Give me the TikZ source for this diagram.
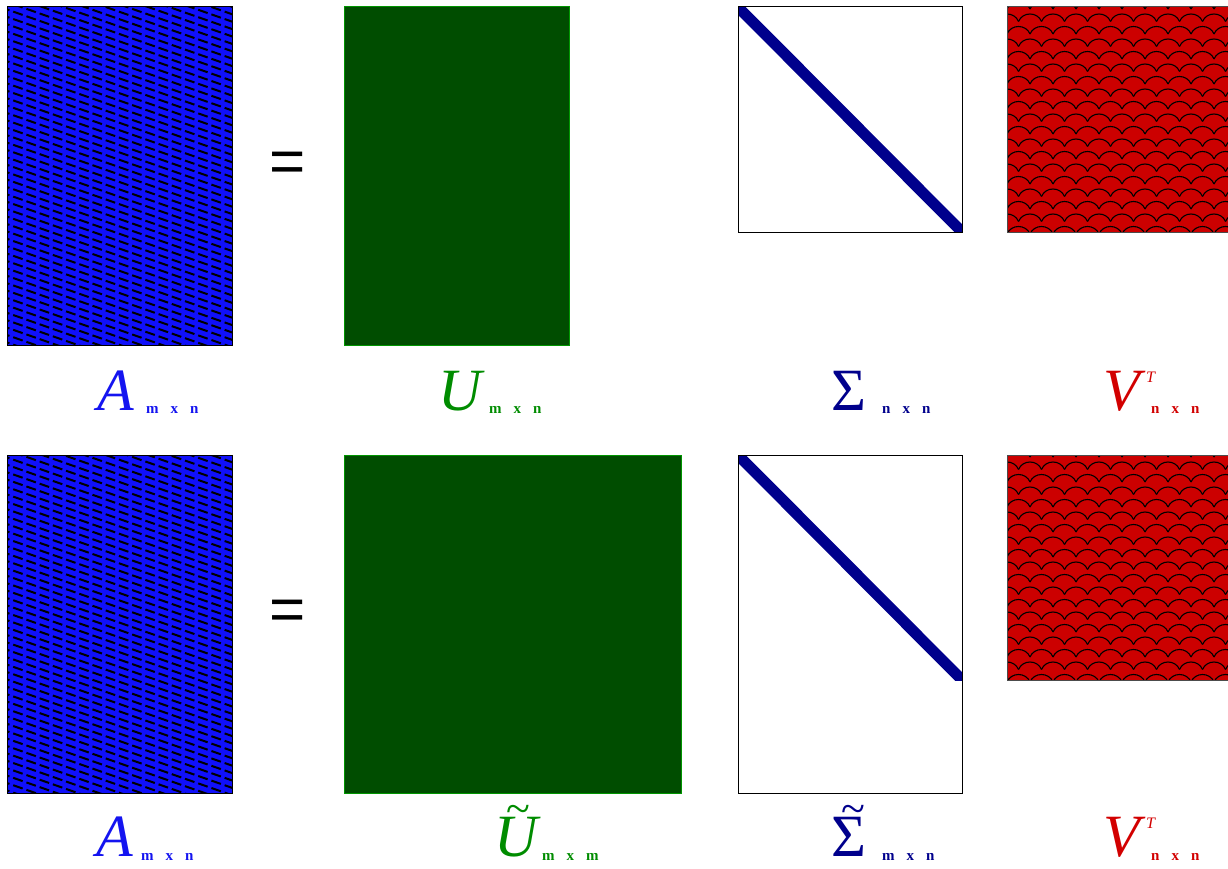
\documentclass[tikz,border=0pt]{standalone}
\usepackage{fontspec}
\setmainfont{Liberation Serif}
\newfontfamily\eqfont{Liberation Sans}
\definecolor{afill}{RGB}{16,16,250}
\definecolor{alabel}{RGB}{20,20,240}
\definecolor{ufill}{RGB}{0,77,0}
\definecolor{uedge}{RGB}{0,150,0}
\definecolor{ulabel}{RGB}{0,140,0}
\definecolor{snavy}{RGB}{0,0,140}
\definecolor{vfill}{RGB}{204,0,0}
\definecolor{vlabel}{RGB}{210,0,0}
\newcommand\myblue[2]{% top y, bottom y
  \begin{scope}
    \clip (7,#1) rectangle (232,#2);
    \fill[afill] (7,#1) rectangle (232,#2);
    \foreach \i in {-14,...,48}
      \draw[black, line width=2pt, dash pattern=on 10pt off 4pt]
        (0,{#1+\i*7.4}) -- (240,{#1+\i*7.4+84});
  \end{scope}
  \draw[black, line width=1pt] (7,#1) rectangle (232,#2);
}
\newcommand\myred[2]{% top y, bottom y
  \begin{scope}
    \clip (1007,#1) rectangle (1228,#2);
    \fill[vfill] (1007,#1) rectangle (1228,#2);
    \foreach \r in {0,...,19}{
      \pgfmathsetmacro\yy{#1+2+\r*12.5}
      \pgfmathsetmacro\off{mod(\r,2)*11.5}
      \foreach \c in {-1,...,10}{
        \pgfmathsetmacro\xx{1007+\off+\c*23}
        \draw[black, line width=1.1pt] (\xx,\yy) .. controls ({\xx+4},{\yy-10}) and ({\xx+19},{\yy-10}) .. ({\xx+23},\yy);
      }
    }
  \end{scope}
  \draw[black!70, line width=1pt] (1007,#1) rectangle (1228,#2);
}
\tikzset{
  mainlbl/.style={anchor=base west, inner sep=0pt, font=\fontsize{60}{60}\selectfont},
  sublbl/.style={anchor=base west, inner sep=0pt, font=\fontsize{15}{15}\selectfont\bfseries},
  eqsign/.style={inner sep=0pt, font=\eqfont\fontsize{62}{62}\selectfont},
  tildemark/.style={anchor=base, inner sep=0pt, font=\fontsize{44}{44}\selectfont},
}
\newcommand\dims[3]{#1\hspace{12pt}#2\hspace{12pt}#3}
\begin{document}
\begin{tikzpicture}[x=1pt,y=-1pt]
\useasboundingbox (0,0) rectangle (1228,869);
% ---------------- top row ----------------
\myblue{7}{345}
\node[eqsign] (eq1) at (288,167) {=};
\draw[uedge, fill=ufill, line width=1pt] (344,7) rectangle (569,345);
\begin{scope}
  \clip (738,7) rectangle (962,232);
  \draw[snavy, line width=11pt] (730,-1) -- (970,240);
\end{scope}
\draw[black, line width=1pt] (738,7) rectangle (962,232);
\myred{7}{232}
% labels top
\node[mainlbl, text=alabel] (la1) at (97,410) {\itshape A};
\node[sublbl, text=alabel] (sa1) at (146,413) {\dims{m}{x}{n}};
\node[mainlbl, text=ulabel] (lu1) at (438,410) {\itshape U};
\node[sublbl, text=ulabel] (su1) at (489,413) {\dims{m}{x}{n}};
\node[mainlbl, text=snavy] (ls1) at (831,410) {Σ};
\node[sublbl, text=snavy] (ss1) at (882,413) {\dims{n}{x}{n}};
\node[mainlbl, text=vlabel] (lv1) at (1103,410) {\itshape V};
\node[anchor=base west, inner sep=0pt, text=vlabel, font=\fontsize{16}{16}\selectfont\itshape] (tv1) at (1146,382) {T};
\node[sublbl, text=vlabel] (sv1) at (1151,413) {\dims{n}{x}{n}};
% ---------------- bottom row ----------------
\myblue{455}{793}
\node[eqsign] (eq2) at (288,615) {=};
\draw[uedge, fill=ufill, line width=1pt] (344,455) rectangle (681,793);
\begin{scope}
  \clip (738,455) rectangle (962,680);
  \draw[snavy, line width=11pt] (730,447) -- (970,688);
\end{scope}
\draw[black, line width=1pt] (738,455) rectangle (962,793);
\myred{455}{680}
% labels bottom
\node[mainlbl, text=alabel] (la2) at (96,856) {\itshape A};
\node[sublbl, text=alabel] (sa2) at (141,860) {\dims{m}{x}{n}};
\node[mainlbl, text=ulabel] (lu2) at (494,856) {\itshape U};
\node[tildemark, text=ulabel] (tu2) at (518,823) {\~{}};
\node[sublbl, text=ulabel] (su2) at (542,860) {\dims{m}{x}{m}};
\node[mainlbl, text=snavy] (ls2) at (831,856) {Σ};
\node[tildemark, text=snavy] (ts2) at (853,823) {\~{}};
\node[sublbl, text=snavy] (ss2) at (882,860) {\dims{m}{x}{n}};
\node[mainlbl, text=vlabel] (lv2) at (1103,856) {\itshape V};
\node[anchor=base west, inner sep=0pt, text=vlabel, font=\fontsize{16}{16}\selectfont\itshape] (tv2) at (1146,828) {T};
\node[sublbl, text=vlabel] (sv2) at (1151,860) {\dims{n}{x}{n}};
\end{tikzpicture}
\end{document}
